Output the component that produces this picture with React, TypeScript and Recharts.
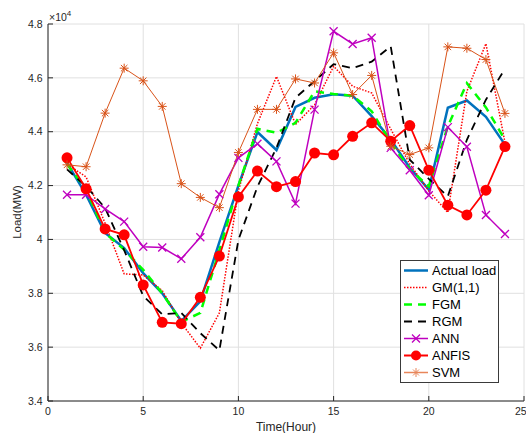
import { LineChart, Line, XAxis, YAxis, CartesianGrid } from 'recharts'

// ============================================================================
// Data (MW)
// ============================================================================

const hours = [1, 2, 3, 4, 5, 6, 7, 8, 9, 10, 11, 12, 13, 14, 15, 16, 17, 18, 19, 20, 21, 22, 23, 24]

const actualLoad = [42840, 41660, 40240, 39680, 38750, 38000, 36970, 37700, 39900, 42000, 43990, 43320, 44920, 45260, 45390, 45340, 44580, 43710, 42660, 41850, 44890, 45160, 44550, 43520]
const gm11 = [42800, 42320, 40600, 38720, 38680, 38100, 36900, 35960, 37270, 41800, 44300, 46050, 44270, 45000, 46430, 45690, 45440, 44100, 42800, 41800, 41000, 45500, 47270, 43600]
const fgm = [42800, 41850, 40240, 39620, 38870, 38000, 36940, 37270, 39600, 42000, 44110, 43960, 44330, 45500, 45400, 45340, 44760, 43600, 42600, 41970, 44200, 45800, 44900, 43700]
const rgm = [42600, 41970, 41170, 39600, 37900, 37220, 37270, 36520, 35880, 39980, 41960, 43400, 45260, 45880, 46510, 46360, 46600, 47170, 42960, 42250, 41600, 43700, 45190, 46330]
const ann = [41660, 41660, 41130, 40660, 39730, 39700, 39280, 40080, 41680, 43030, 43550, 42900, 41330, 44820, 47730, 47260, 47490, 43400, 42570, 41640, 44170, 43440, 40910, 40200]
const anfis = [43030, 41880, 40390, 40170, 38310, 36920, 36870, 37850, 39380, 41580, 42540, 41960, 42150, 43210, 43140, 43830, 44330, 43650, 44230, 42570, 41270, 40910, 41830, 43450]
const svm = [42770, 42700, 44690, 46360, 45890, 44940, 42070, 41560, 41180, 43230, 44830, 44830, 45960, 45810, 46930, 45380, 46090, 43460, 43150, 43400, 47150, 47100, 46680, 44680]

const xTicks = [0, 5, 10, 15, 20, 25]
const yTicks = [34000, 36000, 38000, 40000, 42000, 44000, 46000, 48000]

// ============================================================================
// Styles
// ============================================================================

const FONT = '"Liberation Sans", Arial, sans-serif'
const INK = '#262626'
const C = {
  actual: '#0072BD',
  gm: '#FF0000',
  fgm: '#00FF00',
  rgm: '#000000',
  ann: '#BF00BF',
  anfis: '#FF0000',
  svm: '#D95319',
}

const data = hours.map((h, i) => ({
  hour: h,
  actual: actualLoad[i],
  gm: gm11[i],
  fgm: fgm[i],
  rgm: rgm[i],
  ann: ann[i],
  anfis: anfis[i],
  svm: svm[i],
}))

// ============================================================================
// Markers
// ============================================================================

function CrossDot(props: any) {
  const { cx, cy, index } = props
  if (cx == null || cy == null) return <g key={index} />
  const r = 4
  return (
    <path
      key={index}
      d={`M${cx - r},${cy - r}L${cx + r},${cy + r}M${cx - r},${cy + r}L${cx + r},${cy - r}`}
      stroke={C.ann}
      strokeWidth={1.3}
      fill="none"
    />
  )
}

function StarDot(props: any) {
  const { cx, cy, index } = props
  if (cx == null || cy == null) return <g key={index} />
  const r = 4.5
  const d = r * 0.72
  return (
    <path
      key={index}
      d={`M${cx},${cy - r}L${cx},${cy + r}M${cx - r},${cy}L${cx + r},${cy}M${cx - d},${cy - d}L${cx + d},${cy + d}M${cx - d},${cy + d}L${cx + d},${cy - d}`}
      stroke={C.svm}
      strokeWidth={1}
      fill="none"
    />
  )
}

// ============================================================================
// Legend
// ============================================================================

const legendItems = [
  { label: 'Actual load', color: C.actual, width: 2.5, dash: undefined, marker: '' },
  { label: 'GM(1,1)', color: C.gm, width: 1.5, dash: '1.5 1.5', marker: '' },
  { label: 'FGM', color: C.fgm, width: 2.5, dash: '8 6', marker: '' },
  { label: 'RGM', color: C.rgm, width: 1.8, dash: '8 6', marker: '' },
  { label: 'ANN', color: C.ann, width: 1.5, dash: undefined, marker: 'x' },
  { label: 'ANFIS', color: C.anfis, width: 2, dash: undefined, marker: 'o' },
  { label: 'SVM', color: '#E8865A', width: 1.5, dash: undefined, marker: '*' },
]

function ChartLegend() {
  return (
    <div
      style={{
        position: 'absolute',
        left: 400,
        top: 260,
        width: 97,
        height: 120,
        border: '1px solid #3a3a3a',
        background: '#fff',
        fontFamily: FONT,
        fontSize: 13,
        color: '#000',
        paddingTop: 1,
      }}
    >
      {legendItems.map(item => (
        <div key={item.label} style={{ display: 'flex', alignItems: 'center', height: 17 }}>
          <svg width={30} height={17} style={{ display: 'block' }}>
            <line x1={3} x2={27} y1={8.5} y2={8.5} stroke={item.color} strokeWidth={item.width} strokeDasharray={item.dash} />
            {item.marker === 'x' && (
              <path d="M11,4.5L19,12.5M11,12.5L19,4.5" stroke={item.color} strokeWidth={1.3} />
            )}
            {item.marker === 'o' && <circle cx={15} cy={8.5} r={5} fill={item.color} />}
            {item.marker === '*' && (
              <path d="M15,4L15,13M10.5,8.5L19.5,8.5M12,5.5L18,11.5M12,11.5L18,5.5" stroke={item.color} strokeWidth={1} />
            )}
          </svg>
          <span style={{ marginLeft: 1 }}>{item.label}</span>
        </div>
      ))}
    </div>
  )
}

// ============================================================================
// Component
// ============================================================================

export default function App() {
  const tickStyle = { fill: INK, fontSize: 10.5, fontFamily: FONT }
  return (
    <div style={{ position: 'absolute', left: 0, top: 0, width: 526, height: 433, background: '#fff' }}>
      <LineChart width={526} height={433} data={data} margin={{ top: 24, right: 2, bottom: 0, left: 0 }}>
        <CartesianGrid xAxisId="b" yAxisId="l" stroke="#e0e0e0" strokeWidth={1} />
        <XAxis
          xAxisId="b"
          dataKey="hour"
          type="number"
          domain={[0, 25]}
          ticks={xTicks}
          height={32}
          stroke={INK}
          tick={tickStyle}
          tickSize={-5}
          tickMargin={12}
        />
        <XAxis
          xAxisId="t"
          orientation="top"
          dataKey="hour"
          type="number"
          domain={[0, 25]}
          ticks={xTicks}
          height={0}
          stroke={INK}
          tick={false}
          tickSize={-5}
        />
        <YAxis
          yAxisId="l"
          type="number"
          domain={[34000, 48000]}
          ticks={yTicks}
          width={48}
          stroke={INK}
          tick={tickStyle}
          tickSize={-5}
          tickMargin={10.5}
          tickFormatter={(v: number) => String(v / 10000)}
        />
        <YAxis
          yAxisId="r"
          orientation="right"
          type="number"
          domain={[34000, 48000]}
          ticks={yTicks}
          width={0}
          stroke={INK}
          tick={false}
          tickSize={-5}
        />
        <Line xAxisId="b" yAxisId="l" dataKey="actual" stroke={C.actual} strokeWidth={2.5} dot={false} isAnimationActive={false} />
        <Line xAxisId="b" yAxisId="l" dataKey="gm" stroke={C.gm} strokeWidth={1.5} strokeDasharray="1.5 1.5" dot={false} isAnimationActive={false} />
        <Line xAxisId="b" yAxisId="l" dataKey="fgm" stroke={C.fgm} strokeWidth={2.5} strokeDasharray="8 6" dot={false} isAnimationActive={false} />
        <Line xAxisId="b" yAxisId="l" dataKey="rgm" stroke={C.rgm} strokeWidth={1.8} strokeDasharray="8 6" dot={false} isAnimationActive={false} />
        <Line xAxisId="b" yAxisId="l" dataKey="ann" stroke={C.ann} strokeWidth={1.5} dot={CrossDot} isAnimationActive={false} />
        <Line xAxisId="b" yAxisId="l" dataKey="anfis" stroke={C.anfis} strokeWidth={1.8} dot={{ r: 5.5, fill: C.anfis, stroke: C.anfis, strokeWidth: 0 }} isAnimationActive={false} />
        <Line xAxisId="b" yAxisId="l" dataKey="svm" stroke={C.svm} strokeWidth={1} dot={StarDot} isAnimationActive={false} />
        <text x={18} y={212} transform="rotate(-90 18 212)" textAnchor="middle" dominantBaseline="middle" fontFamily={FONT} fontSize={11.5} fill={INK}>
          Load(MW)
        </text>
        <text x={286} y={428} textAnchor="middle" dominantBaseline="middle" fontFamily={FONT} fontSize={12} fill={INK}>
          Time(Hour)
        </text>
        <text x={49} y={21} fontFamily={FONT} fontSize={10.5} fill={INK}>
          ×10
          <tspan dy={-5} fontSize={8}>4</tspan>
        </text>
      </LineChart>
      <ChartLegend />
    </div>
  )
}
